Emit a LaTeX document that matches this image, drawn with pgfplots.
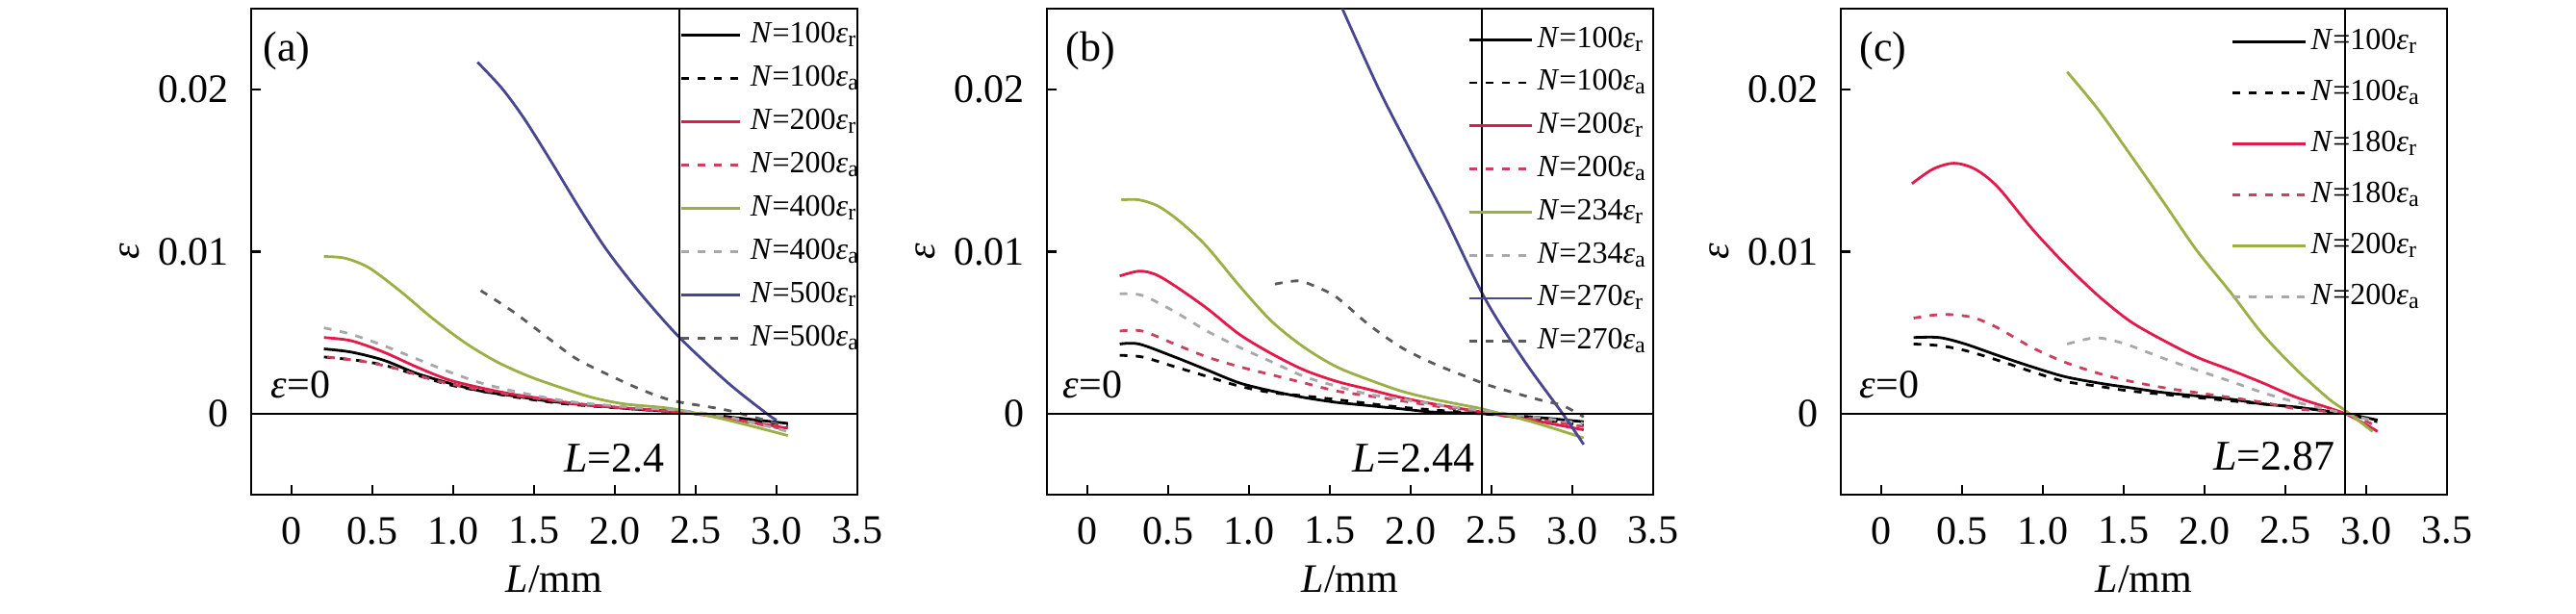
\documentclass[border=0pt]{standalone}
\usepackage{fontspec}
\setmainfont{Liberation Serif}
\usepackage{pgfplots}
\pgfplotsset{compat=1.18}
\definecolor{cred}{HTML}{E3194B}
\definecolor{credd}{HTML}{C94060}
\definecolor{colive}{HTML}{9BAF45}
\definecolor{cblue}{HTML}{484690}
\definecolor{clgray}{HTML}{A8A8A8}
\definecolor{cdgray}{HTML}{5A5A5A}
\newcommand\tickfont{\fontsize{10.5}{12}\selectfont}
\newcommand\legfont{\fontsize{8}{9}\selectfont}
\newcommand\lab[2]{\textit{N}=#1\textit{ε}\textsubscript{#2}}
\pgfplotsset{panel/.style={
  scale only axis, width=157.5pt, height=126.25pt,
  xmin=-0.25, xmax=3.5, ymin=-0.005, ymax=0.025,
  scaled y ticks=false, scaled x ticks=false,
  xtick={0,0.5,1,1.5,2,2.5,3,3.5}, xticklabels={0,0.5,1.0,1.5,2.0,2.5,3.0,3.5},
  ytick={0,0.01,0.02}, yticklabels={0,0.01,0.02},
  tick align=inside, xtick pos=bottom, ytick pos=left, major tick length=2.5pt,
  axis line style={line width=0.6pt},
  tick style={line width=0.6pt, black},
  tick label style={font=\tickfont},
  /pgf/number format/assume math mode=true,
  xticklabel style={yshift=-2.25pt}, yticklabel style={xshift=-2.25pt},
  xlabel={\textit{L}/mm}, ylabel={\textit{ε}},
  xlabel style={font=\tickfont, at={(axis description cs:0.5,-0.1743)}, anchor=center},
  ylabel style={font=\tickfont, at={(axis description cs:-0.2,0.5)}, anchor=center},
  legend style={draw=none, fill=none, inner sep=0pt, outer sep=0pt, font=\legfont,
    cells={anchor=west}, nodes={inner sep=0pt, text height=6pt, text depth=2pt}},
  every axis plot/.append style={line width=0.7pt},
  dsh/.style={dash pattern=on 2pt off 2.2pt},
}}
\begin{document}
\begin{tikzpicture}
\path (0,0) rectangle (669.25pt,159.25pt);
% ---------------- (a)
\begin{axis}[panel, at={(65.25pt,30.75pt)}, anchor=south west,
  legend style={at={(axis description cs:0.708,0.977)}, anchor=north west, row sep=3.25pt, column sep=2.25pt},
  legend image code/.code={\draw[#1] (0pt,0pt) -- (15.25pt,0pt);}]
\addplot[black, smooth] coordinates {(0.20,0.0040)(0.37,0.0038)(0.57,0.0033)(0.77,0.0025)(0.97,0.0019)(1.17,0.0014)(1.37,0.0011)(1.57,0.0008)(1.76,0.0006)(2.1,0.0003)(2.4,0.0001)(2.7,-0.0002)(3.07,-0.0006)};
\addlegendentry{\lab{100}{r}}
\addplot[black, dsh, smooth] coordinates {(0.20,0.0035)(0.40,0.0033)(0.57,0.0030)(0.77,0.0024)(0.97,0.0018)(1.17,0.0014)(1.4,0.0010)(1.7,0.0006)(2.1,0.0003)(2.4,0.0001)(2.7,-0.0002)(3.07,-0.0007)};
\addlegendentry{\lab{100}{a}}
\addplot[cred, smooth] coordinates {(0.20,0.0047)(0.37,0.0045)(0.57,0.0038)(0.77,0.0029)(0.97,0.0021)(1.17,0.0016)(1.37,0.0012)(1.57,0.0009)(1.76,0.0006)(2.0,0.0004)(2.4,0.0001)(2.7,-0.0003)(3.07,-0.0009)};
\addlegendentry{\lab{200}{r}}
\addplot[credd, dsh, smooth] coordinates {(0.22,0.0035)(0.46,0.0032)(0.68,0.0027)(0.87,0.0021)(1.1,0.0016)(1.4,0.0011)(1.7,0.0007)(2.0,0.0004)(2.4,0.0001)(2.7,-0.0003)(3.07,-0.0010)};
\addlegendentry{\lab{200}{a}}
\addplot[colive, smooth] coordinates {(0.20,0.0097)(0.33,0.0096)(0.48,0.0090)(0.68,0.0075)(0.87,0.0059)(1.07,0.0044)(1.27,0.0032)(1.47,0.0023)(1.67,0.0016)(1.86,0.0010)(2.06,0.0006)(2.36,0.0003)(2.7,-0.0004)(3.07,-0.00135)};
\addlegendentry{\lab{400}{r}}
\addplot[clgray, dsh, smooth] coordinates {(0.20,0.0053)(0.37,0.0049)(0.57,0.0042)(0.77,0.0034)(0.97,0.0026)(1.17,0.0019)(1.37,0.0014)(1.57,0.0010)(1.76,0.0007)(2.1,0.0004)(2.4,0.0002)(2.7,-0.0002)(3.07,-0.0011)};
\addlegendentry{\lab{400}{a}}
\addplot[cblue, smooth] coordinates {(1.15,0.0217)(1.30,0.0201)(1.44,0.0182)(1.61,0.0155)(1.78,0.0127)(1.95,0.0101)(2.16,0.0074)(2.40,0.0047)(2.7,0.0019)(2.94,0.0)(3.0,-0.0004)};
\addlegendentry{\lab{500}{r}}
\addplot[cdgray, dsh, smooth] coordinates {(1.17,0.0076)(1.37,0.0063)(1.57,0.0048)(1.76,0.0034)(1.96,0.0024)(2.16,0.0015)(2.36,0.0008)(2.7,0.0002)(3.07,-0.0008)};
\addlegendentry{\lab{500}{a}}
\addplot[black, line width=0.6pt, forget plot] coordinates {(2.4,-0.005)(2.4,0.025)};
\addplot[black, line width=0.6pt, forget plot] coordinates {(-0.25,0)(3.5,0)};
\node[anchor=west, font=\fontsize{11}{13}\selectfont, inner sep=0pt] at (rel axis cs:0.019,0.913) {(a)};
\node[anchor=base west, font=\tickfont, inner sep=0pt] at (axis cs:-0.131,0.001) {\textit{ε}=0};
\node[anchor=base east, font=\fontsize{11}{13}\selectfont, inner sep=0pt] at (axis cs:2.31,-0.00363) {\textit{L}=2.4};
\end{axis}
% ---------------- (b)
\begin{axis}[panel, at={(272pt,30.75pt)}, anchor=south west,
  legend style={at={(axis description cs:0.695,0.968)}, anchor=north west, row sep=3.2pt, column sep=1pt},
  legend image code/.code={\draw[#1] (0pt,0pt) -- (16.25pt,0pt);}]
\addplot[black, smooth] coordinates {(0.20,0.0043)(0.32,0.0043)(0.54,0.0035)(0.74,0.0027)(0.94,0.0019)(1.14,0.0014)(1.34,0.0010)(1.54,0.0007)(1.74,0.0005)(1.94,0.0003)(2.14,0.0001)(2.44,0.0)(2.75,-0.0002)(3.07,-0.0005)};
\addlegendentry{\lab{100}{r}}
\addplot[black, dsh, smooth] coordinates {(0.20,0.0036)(0.34,0.0035)(0.54,0.0029)(0.74,0.0023)(0.94,0.0017)(1.14,0.0013)(1.34,0.0011)(1.6,0.0008)(1.94,0.0004)(2.44,0.0)(2.75,-0.0003)(3.07,-0.0007)};
\addlegendentry{\lab{100}{a}}
\addplot[cred, smooth] coordinates {(0.20,0.0085)(0.32,0.0088)(0.42,0.0086)(0.54,0.0079)(0.74,0.0065)(0.94,0.0049)(1.14,0.0037)(1.34,0.0027)(1.54,0.0020)(1.74,0.0015)(1.94,0.0010)(2.14,0.0006)(2.44,0.0001)(2.75,-0.0004)(3.07,-0.0010)};
\addlegendentry{\lab{200}{r}}
\addplot[credd, dsh, smooth] coordinates {(0.20,0.0051)(0.34,0.0051)(0.54,0.0043)(0.74,0.0035)(0.94,0.0029)(1.14,0.0024)(1.34,0.0019)(1.54,0.0014)(1.74,0.0011)(1.94,0.0008)(2.2,0.0004)(2.44,0.0001)(2.75,-0.0003)(3.07,-0.0008)};
\addlegendentry{\lab{200}{a}}
\addplot[colive, smooth] coordinates {(0.21,0.0132)(0.32,0.0132)(0.44,0.0128)(0.58,0.0118)(0.74,0.0103)(0.94,0.0079)(1.14,0.0057)(1.34,0.0041)(1.54,0.0029)(1.74,0.0021)(1.94,0.0014)(2.14,0.0009)(2.34,0.0005)(2.44,0.0003)(2.75,-0.0005)(3.07,-0.0015)};
\addlegendentry{\lab{234}{r}}
\addplot[clgray, dsh, smooth] coordinates {(0.20,0.0074)(0.34,0.0073)(0.54,0.0063)(0.74,0.0051)(0.94,0.0041)(1.14,0.0032)(1.34,0.0023)(1.54,0.0017)(1.74,0.0012)(1.94,0.0009)(2.2,0.0005)(2.44,0.0002)(2.75,-0.0002)(3.07,-0.0006)};
\addlegendentry{\lab{234}{a}}
\addplot[cblue, smooth] coordinates {(1.55,0.0256)(1.80,0.0201)(2.00,0.0162)(2.20,0.0124)(2.46,0.0071)(2.70,0.0033)(2.94,0.0)(3.07,-0.0019)};
\addlegendentry{\lab{270}{r}}
\addplot[cdgray, dsh, smooth] coordinates {(1.16,0.0080)(1.30,0.0082)(1.40,0.0079)(1.54,0.0072)(1.74,0.0055)(1.94,0.0041)(2.14,0.0031)(2.34,0.0023)(2.5,0.0017)(2.78,0.0009)(2.94,0.0005)(3.07,-0.0002)};
\addlegendentry{\lab{270}{a}}
\addplot[black, line width=0.6pt, forget plot] coordinates {(2.44,-0.005)(2.44,0.025)};
\addplot[black, line width=0.6pt, forget plot] coordinates {(-0.25,0)(3.5,0)};
\node[anchor=west, font=\fontsize{11}{13}\selectfont, inner sep=0pt] at (rel axis cs:0.030,0.913) {(b)};
\node[anchor=base west, font=\tickfont, inner sep=0pt] at (axis cs:-0.154,0.001) {\textit{ε}=0};
\node[anchor=base east, font=\fontsize{11}{13}\selectfont, inner sep=0pt] at (axis cs:2.398,-0.00363) {\textit{L}=2.44};
\end{axis}
% ---------------- (c)
\begin{axis}[panel, at={(478.25pt,30.75pt)}, anchor=south west,
  legend style={at={(axis description cs:0.644,0.964)}, anchor=north west, row sep=5.25pt, column sep=1pt},
  legend image code/.code={\draw[#1] (0pt,0pt) -- (19pt,0pt);}]
\addplot[black, smooth] coordinates {(0.20,0.0047)(0.36,0.0047)(0.52,0.0043)(0.72,0.0036)(0.93,0.0029)(1.13,0.0023)(1.34,0.0019)(1.54,0.0016)(1.75,0.0013)(1.95,0.0011)(2.16,0.0009)(2.36,0.0006)(2.57,0.0004)(2.87,0.0)(3.07,-0.0004)};
\addlegendentry{\lab{100}{r}}
\addplot[black, dsh, smooth] coordinates {(0.20,0.0043)(0.36,0.0042)(0.52,0.0039)(0.72,0.0033)(0.93,0.0026)(1.13,0.0020)(1.34,0.0017)(1.54,0.0014)(1.95,0.0010)(2.36,0.0006)(2.57,0.0004)(2.87,0.0)(3.07,-0.0005)};
\addlegendentry{\lab{100}{a}}
\addplot[cred, smooth] coordinates {(0.19,0.0142)(0.32,0.0151)(0.45,0.01546)(0.58,0.0151)(0.72,0.0140)(0.93,0.01145)(1.13,0.0093)(1.34,0.0073)(1.54,0.0057)(1.75,0.0045)(1.95,0.0035)(2.16,0.0027)(2.36,0.0019)(2.57,0.0010)(2.87,0.0)(3.07,-0.0011)};
\addlegendentry{\lab{180}{r}}
\addplot[credd, dsh, smooth] coordinates {(0.20,0.0059)(0.34,0.0061)(0.46,0.0061)(0.58,0.0059)(0.72,0.0053)(0.93,0.0041)(1.13,0.0032)(1.34,0.0025)(1.54,0.0020)(1.75,0.0016)(1.95,0.0013)(2.16,0.0010)(2.36,0.0007)(2.57,0.0003)(2.87,0.0)(3.07,-0.0008)};
\addlegendentry{\lab{180}{a}}
\addplot[colive, smooth] coordinates {(1.15,0.0211)(1.34,0.0188)(1.54,0.0160)(1.75,0.0130)(1.95,0.0101)(2.16,0.0075)(2.36,0.0049)(2.57,0.0027)(2.77,0.0009)(2.87,0.0002)(3.04,-0.0011)};
\addlegendentry{\lab{200}{r}}
\addplot[clgray, dsh, smooth] coordinates {(1.15,0.0043)(1.30,0.00466)(1.40,0.0046)(1.54,0.0042)(1.75,0.0034)(1.95,0.0027)(2.16,0.0020)(2.36,0.0013)(2.57,0.0007)(2.87,0.0)(3.07,-0.0005)};
\addlegendentry{\lab{200}{a}}
\addplot[black, line width=0.6pt, forget plot] coordinates {(2.87,-0.005)(2.87,0.025)};
\addplot[black, line width=0.6pt, forget plot] coordinates {(-0.25,0)(3.5,0)};
\node[anchor=west, font=\fontsize{11}{13}\selectfont, inner sep=0pt] at (rel axis cs:0.030,0.913) {(c)};
\node[anchor=base west, font=\tickfont, inner sep=0pt] at (axis cs:-0.137,0.001) {\textit{ε}=0};
\node[anchor=base east, font=\fontsize{11}{13}\selectfont, inner sep=0pt] at (axis cs:2.81,-0.0035) {\textit{L}=2.87};
\end{axis}
\end{tikzpicture}
\end{document}
